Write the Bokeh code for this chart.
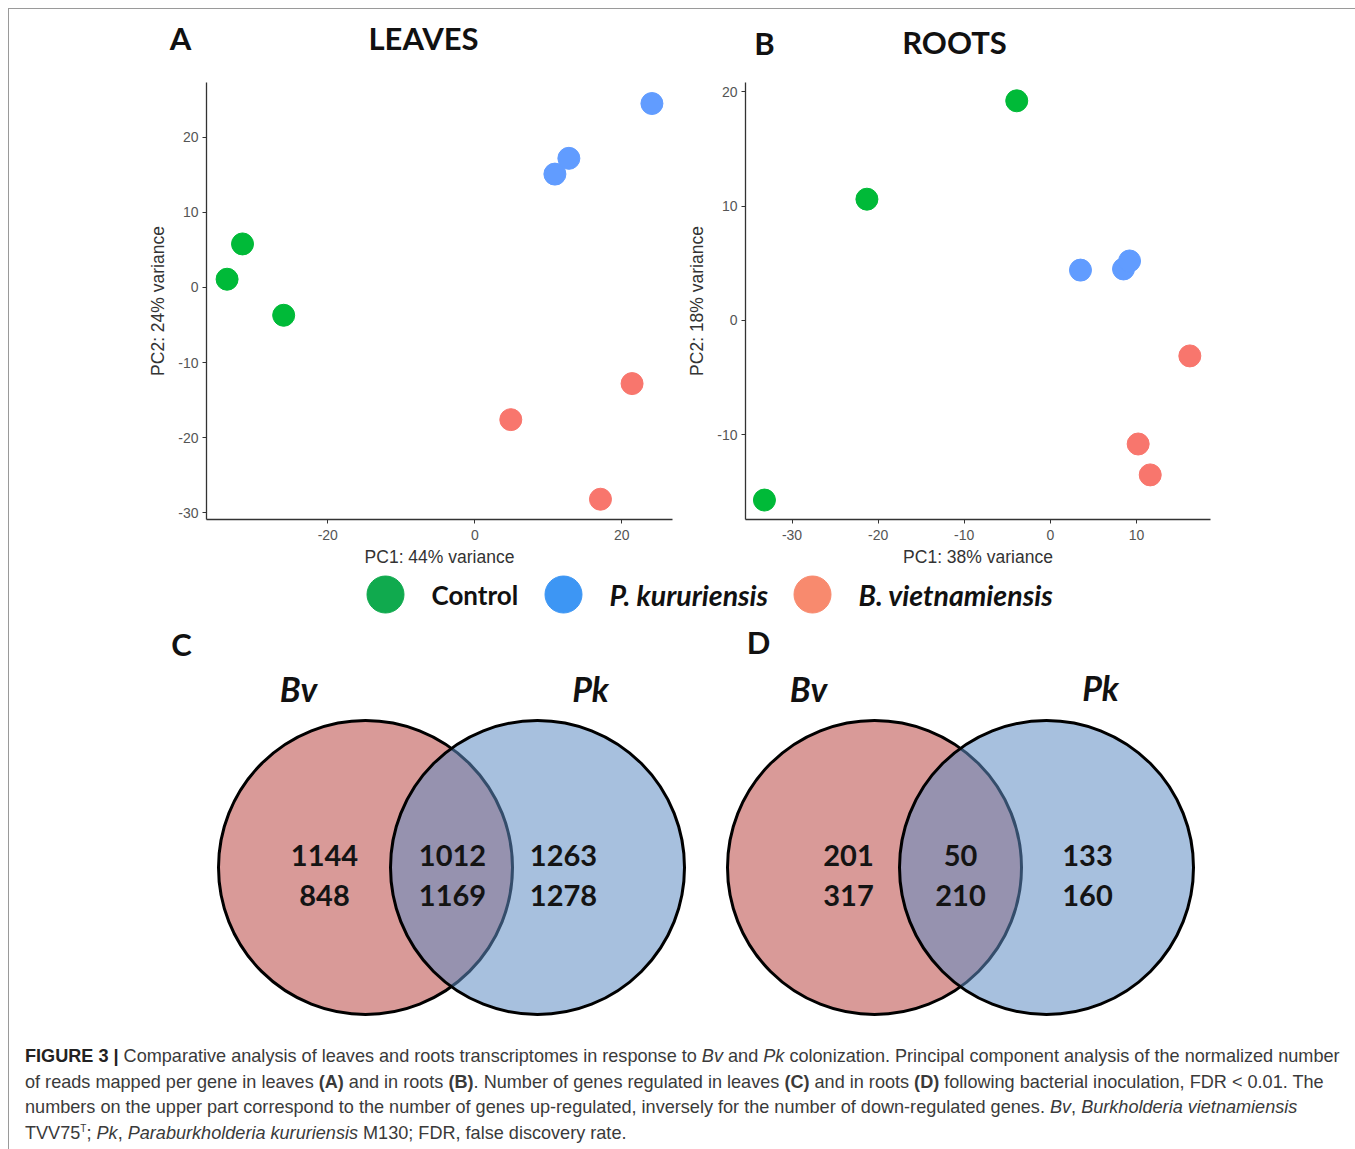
from bokeh.plotting import figure
from bokeh.layouts import column, row
from bokeh.models import ColumnDataSource, Range1d, Div, FixedTicker
from bokeh.core.properties import value
from bokeh.embed import file_html
from bokeh.resources import INLINE

# ---------------- data ----------------
groups = ["Control", "P. kururiensis", "B. vietnamiensis"]
group_colors = ["#00BA38", "#619CFF", "#F8766D"]
legend_colors = ["#10AA4E", "#3D96F4", "#F88A6E"]

sample_group = ["Control"] * 3 + ["P. kururiensis"] * 3 + ["B. vietnamiensis"] * 3

leaves_pc1 = [-31.6, -33.7, -26.0, 10.9, 12.8, 24.1, 4.9, 21.4, 17.1]
leaves_pc2 = [5.8, 1.1, -3.7, 15.1, 17.2, 24.5, -17.6, -12.8, -28.2]
leaves_var = (44, 24)

roots_pc1 = [-3.9, -21.3, -33.2, 3.5, 8.5, 9.2, 16.2, 10.2, 11.6]
roots_pc2 = [19.2, 10.6, -15.7, 4.4, 4.5, 5.2, -3.1, -10.8, -13.5]
roots_var = (38, 18)

leaves_xticks = [-20, 0, 20]
leaves_yticks = [-30, -20, -10, 0, 10, 20]
roots_xticks = [-30, -20, -10, 0, 10]
roots_yticks = [-10, 0, 10, 20]

venn_sets = ["Bv", "Pk"]
# regions: Bv only, both, Pk only
leaves_up = [1144, 1012, 1263]
leaves_down = [848, 1169, 1278]
roots_up = [201, 50, 133]
roots_down = [317, 210, 160]

HEAD_FONT = "Lato"
AX_FONT = "Liberation Sans"
W = 1344


def pca_fig(pc1, pc2, var, xr, yr, xticks, yticks, width, mb_left, mb_right, mb_top):
    p = figure(width=width, height=501, x_range=Range1d(*xr), y_range=Range1d(*yr),
               output_backend="svg", toolbar_location=None,
               min_border_left=mb_left, min_border_right=mb_right,
               min_border_top=mb_top, min_border_bottom=53,
               x_axis_label=f"PC1: {var[0]}% variance",
               y_axis_label=f"PC2: {var[1]}% variance")
    p.grid.visible = False
    p.outline_line_color = None
    p.background_fill_color = None
    p.border_fill_color = None
    colors = [group_colors[groups.index(g)] for g in sample_group]
    src = ColumnDataSource(dict(x=pc1, y=pc2, c=colors, g=sample_group))
    p.scatter("x", "y", source=src, size=22, fill_color="c", line_color="c")
    p.xaxis.ticker = FixedTicker(ticks=xticks)
    p.yaxis.ticker = FixedTicker(ticks=yticks)
    p.xaxis.major_label_overrides = {t: str(t) for t in xticks}
    p.yaxis.major_label_overrides = {t: str(t) for t in yticks}
    for ax in (p.xaxis, p.yaxis):
        ax.axis_line_color = "#333333"
        ax.axis_line_width = 1.3
        ax.major_tick_line_color = "#333333"
        ax.major_tick_out = 4
        ax.major_tick_in = 0
        ax.minor_tick_line_color = None
        ax.major_label_text_font = AX_FONT
        ax.major_label_text_font_size = "14px"
        ax.major_label_text_color = "#555555"
        ax.axis_label_text_font = AX_FONT
        ax.axis_label_text_font_size = "17.5px"
        ax.axis_label_text_font_style = "normal"
        ax.axis_label_text_color = "#333333"
    p.xaxis.major_label_standoff = 6
    p.yaxis.major_label_standoff = 4
    p.xaxis.axis_label_standoff = 4
    p.yaxis.axis_label_standoff = 7
    return p


def canvas(width, height):
    p = figure(width=width, height=height, x_range=Range1d(0, width), y_range=Range1d(height, 0),
               output_backend="svg", toolbar_location=None,
               x_axis_location=None, y_axis_location=None, min_border=0)
    p.grid.visible = False
    p.outline_line_color = None
    p.background_fill_color = None
    p.border_fill_color = None
    return p


def txt(p, x, y, t, size, style="bold", align="center", color="#111111"):
    p.text(x=x, y=y, text=t, text_font=value(HEAD_FONT), text_font_style=style,
           text_font_size=size, text_align=align, text_baseline="middle", text_color=color)


# ---------------- header ----------------
head = canvas(W, 62)
txt(head, [171, 755], [28, 33], ["A", "B"], "31px")
txt(head, [414, 945], [28, 32], ["LEAVES", "ROOTS"], "31px")

# ---------------- PCA plots ----------------
figA = pca_fig(leaves_pc1, leaves_pc2, leaves_var, (-36.5, 26.9), (-30.9, 27.3),
               leaves_xticks, leaves_yticks, 675, 197, 12, 9)
figB = pca_fig(roots_pc1, roots_pc2, roots_var, (-35.4, 18.6), (-17.4, 20.8),
               roots_xticks, roots_yticks, W - 675, 61, 143, 11)

# ---------------- legend + Venn ----------------
bot = canvas(W, 458)
bot.scatter(x=[376, 554, 803], y=[22, 22, 22], size=37, fill_color=legend_colors,
            line_color=legend_colors)
txt(bot, [422], [22], [groups[0]], "26px", style="bold", align="left")
txt(bot, [600, 849], [22, 22], groups[1:], "28.5px", style="bold italic", align="left")

txt(bot, [172, 749], [71, 69], ["C", "D"], "31px")
txt(bot, [289, 581, 799, 1091], [116, 116, 116, 115], venn_sets * 2, "34px", style="bold italic")

for cx in (356, 865):
    bot.circle(x=[cx], y=[295], radius=147, fill_color="#D99A98", line_color="#000000",
               line_width=3)
    bot.circle(x=[cx + 172], y=[295], radius=147, fill_color="#5F8CC3", fill_alpha=0.55,
               line_color="#000000", line_width=3)

for xs, up, down in (([315, 443, 554], leaves_up, leaves_down),
                     ([839, 951, 1078], roots_up, roots_down)):
    txt(bot, xs, [283] * 3, [str(v) for v in up], "29px", color="#141414")
    txt(bot, xs, [323] * 3, [str(v) for v in down], "29px", color="#141414")

# ---------------- caption ----------------
caption_html = (
    '<div style="padding:9px 0 0 11px; font-family:\'Liberation Sans\'; font-size:18.1px; '
    'line-height:25.5px; color:#3a3a3a; white-space:nowrap;">'
    '<b style="color:#222">FIGURE 3 |</b> Comparative analysis of leaves and roots transcriptomes in response to '
    '<i>Bv</i> and <i>Pk</i> colonization. Principal component analysis of the normalized number<br>'
    'of reads mapped per gene in leaves <b>(A)</b> and in roots <b>(B)</b>. Number of genes regulated in leaves '
    '<b>(C)</b> and in roots <b>(D)</b> following bacterial inoculation, FDR &lt; 0.01. The<br>'
    'numbers on the upper part correspond to the number of genes up-regulated, inversely for the number of '
    'down-regulated genes. <i>Bv</i>, <i>Burkholderia vietnamiensis</i><br>'
    'TVV75<sup style="font-size:10px; line-height:0">T</sup>; <i>Pk</i>, <i>Paraburkholderia kururiensis</i> '
    'M130; FDR, false discovery rate.'
    '</div>'
)
cap = Div(text=caption_html, width=W, height=111)

layout = column(head, row(figA, figB), bot, cap,
                styles={"margin": "8px 0 0 8px",
                        "border-left": "1px solid #9a9a9a", "border-top": "1px solid #9a9a9a",
                        "border-right": "1px solid #9a9a9a"})

open("out.html", "w").write(file_html(layout, INLINE))
